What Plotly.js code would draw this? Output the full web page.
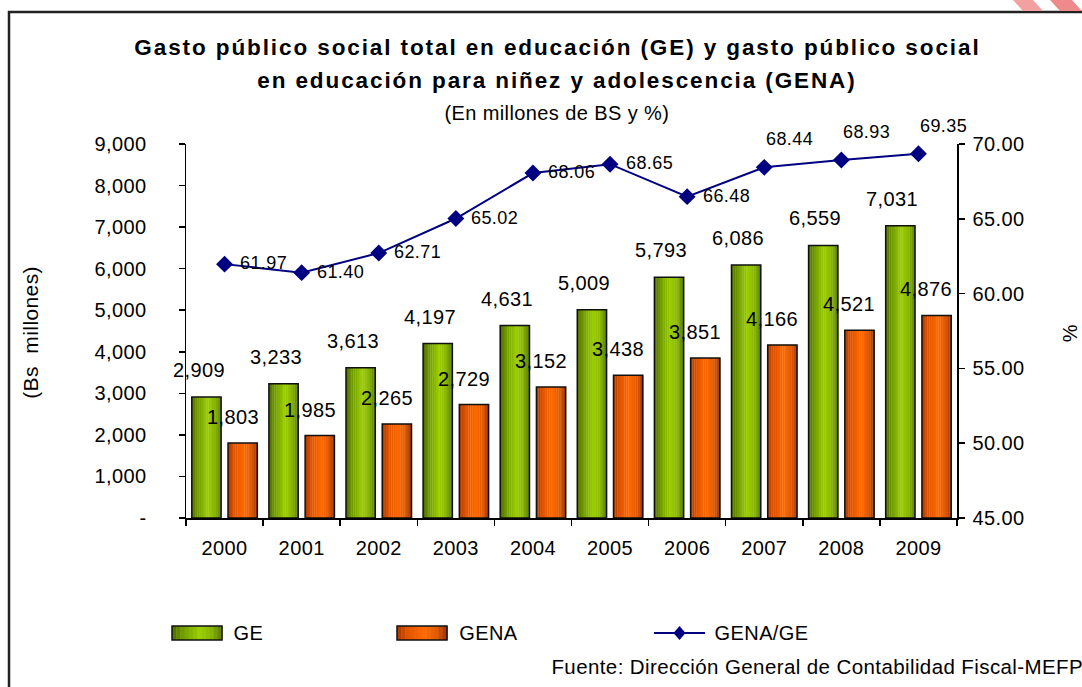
<!DOCTYPE html>
<html><head><meta charset="utf-8">
<script src="https://cdn.plot.ly/plotly-3.0.1.min.js"></script>
<style>html,body{margin:0;padding:0;background:#fff}#chart{width:1082px;height:687px}
.main-svg text{letter-spacing:0.4px}
g.annotation[data-index="0"] text, g.annotation[data-index="1"] text{letter-spacing:1.9px}
</style>
</head><body><div id="chart"></div>
<script>
// ---- data ----
const years = ['2000','2001','2002','2003','2004','2005','2006','2007','2008','2009'];
const geValues = [2909, 3233, 3613, 4197, 4631, 5009, 5793, 6086, 6559, 7031];
const genaValues = [1803, 1985, 2265, 2729, 3152, 3438, 3851, 4166, 4521, 4876];
const ratioValues = [61.97, 61.40, 62.71, 65.02, 68.06, 68.65, 66.48, 68.44, 68.93, 69.35];
const yTickVals = [0,1000,2000,3000,4000,5000,6000,7000,8000,9000];
const yTickText = ['-','1,000','2,000','3,000','4,000','5,000','6,000','7,000','8,000','9,000'];
const seriesNames = ['GE','GENA','GENA/GE'];

// ---- style ----
const FONT = 'Liberation Sans, Arial, sans-serif';
const greenStops = [[0,'#4e6b00'],[0.2,'#709a00'],[0.55,'#9ccf00'],[0.8,'#86b300'],[1,'#587a00']];
const orangeStops = [[0,'#a83a00'],[0.2,'#e05400'],[0.55,'#ff6a00'],[0.8,'#e05a00'],[1,'#9a3400']];
const BAR_W = 0.38, GE_OFF = -0.425, GENA_OFF = 0.045, NSTRIP = 16;

function hex2rgb(h){return [parseInt(h.slice(1,3),16),parseInt(h.slice(3,5),16),parseInt(h.slice(5,7),16)];}
function interp(stops,t){
  for(let i=0;i<stops.length-1;i++){
    const [t0,c0]=stops[i],[t1,c1]=stops[i+1];
    if(t>=t0&&t<=t1){const f=(t-t0)/(t1-t0);const a=hex2rgb(c0),b=hex2rgb(c1);
      return 'rgb('+a.map((v,k)=>Math.round(v+(b[k]-v)*f)).join(',')+')';}
  }
  return stops[stops.length-1][1];
}
function gradientBars(values, off, stops){
  const tr=[];
  for(let k=0;k<NSTRIP;k++){
    tr.push({type:'bar',x:years,y:values,offset:off+k*BAR_W/NSTRIP,width:BAR_W/NSTRIP+0.004,
      marker:{color:interp(stops,(k+0.5)/NSTRIP),line:{width:0}},hoverinfo:'skip',showlegend:false});
  }
  tr.push({type:'bar',x:years,y:values,offset:off,width:BAR_W,
    marker:{color:'rgba(0,0,0,0)',line:{color:'#111',width:1.5}},showlegend:false});
  return tr;
}

const traces = [].concat(gradientBars(geValues,GE_OFF,greenStops), gradientBars(genaValues,GENA_OFF,orangeStops));
traces.push({type:'scatter',mode:'lines+markers',x:years,y:ratioValues,yaxis:'y2',name:seriesNames[2],
  line:{color:'#000080',width:2},marker:{symbol:'diamond',size:13,color:'#000080'},showlegend:false});

// pixel -> paper helpers (plot area 186..957 x, 144..518 y)
const L=186,R=957,T=144,B=518;
const px=v=>(v-L)/(R-L), py=v=>(B-v)/(B-T);

const ann=[];
function paperText(x,y,text,size,opts){
  ann.push(Object.assign({x:px(x),y:py(y),xref:'paper',yref:'paper',xanchor:'center',yanchor:'middle',showarrow:false,text:text,
    font:{family:FONT,size:size,color:'#000'}},opts||{}));
}
// titles first (index 0,1 get letter spacing)
paperText(557,47,'<b>Gasto público social total en educación (GE) y gasto público social</b>',22.5);
paperText(557,80,'<b>en educación para niñez y adolescencia (GENA)</b>',22.5);
paperText(557,113,'(En millones de BS y %)',20);
paperText(30,333,'(Bs  millones)',21,{textangle:-90});
paperText(1070,333,'%',20,{textangle:-90});
paperText(560,666,'Fuente: Dirección General de Contabilidad Fiscal-MEFP',20.5,{xanchor:'left'});
[[232,seriesNames[0]],[458,seriesNames[1]],[714,seriesNames[2]]].forEach(([x,t])=>paperText(x,633,t,20,{xanchor:'left'}));

geValues.forEach((v,i)=>ann.push({x:i,y:v,xref:'x',yref:'y',text:v.toLocaleString('en-US'),showarrow:false,
  xshift:-26,yshift:27,font:{family:FONT,size:20,color:'#000'}}));
genaValues.forEach((v,i)=>ann.push({x:i,y:v,xref:'x',yref:'y',text:v.toLocaleString('en-US'),showarrow:false,
  xshift:8,yshift:26,font:{family:FONT,size:20,color:'#000'}}));
ratioValues.forEach((v,i)=>{
  const above = i>=7;
  ann.push({x:i,y:v,xref:'x',yref:'y2',text:v.toFixed(2),showarrow:false,
    xshift:above?25:39,yshift:above?28:1,font:{family:FONT,size:18,color:'#000'}});
});

const shapes=[];
// border
shapes.push({type:'rect',xref:'paper',yref:'paper',x0:px(9),x1:px(1095),y0:py(12),y1:py(700),line:{color:'#222',width:2.5},fillcolor:'rgba(0,0,0,0)'});
// legend swatches
function swatch(x0,x1,stops){
  const n=12;
  for(let k=0;k<n;k++) shapes.push({type:'rect',xref:'paper',yref:'paper',x0:px(x0+(x1-x0)*k/n),x1:px(x0+(x1-x0)*(k+1)/n+0.5),y0:py(626),y1:py(640),line:{width:0},fillcolor:interp(stops,(k+0.5)/n)});
  shapes.push({type:'rect',xref:'paper',yref:'paper',x0:px(x0),x1:px(x1),y0:py(626),y1:py(640),line:{color:'#111',width:1.5},fillcolor:'rgba(0,0,0,0)'});
}
swatch(172,222,greenStops); swatch(397,447,orangeStops);
shapes.push({type:'line',xref:'paper',yref:'paper',x0:px(654),x1:px(705),y0:py(633),y1:py(633),line:{color:'#000080',width:2}});
shapes.push({type:'path',xref:'paper',yref:'paper',path:`M ${px(679.5-6)} ${py(633)} L ${px(679.5)} ${py(633-7)} L ${px(679.5+6)} ${py(633)} L ${px(679.5)} ${py(633+7)} Z`,fillcolor:'#000080',line:{width:0}});
// watermark stripes
shapes.push({type:'path',xref:'paper',yref:'paper',path:`M ${px(1013)} ${py(0)} L ${px(1033)} ${py(0)} L ${px(1043)} ${py(11)} L ${px(1023)} ${py(11)} Z`,fillcolor:'#f3a0a0',line:{width:0}});
shapes.push({type:'path',xref:'paper',yref:'paper',path:`M ${px(1050)} ${py(0)} L ${px(1072)} ${py(0)} L ${px(1082)} ${py(11)} L ${px(1060)} ${py(11)} Z`,fillcolor:'#ee8a8a',line:{width:0}});

const tickFont={family:FONT,size:20,color:'#000'};
const layout={
  width:1082,height:687,margin:{l:L,r:1082-R,t:T,b:687-B},
  paper_bgcolor:'#fff',plot_bgcolor:'#fff',barmode:'overlay',showlegend:false,
  xaxis:{type:'category',range:[-0.5,9.5],showline:true,linecolor:'#000',linewidth:1.5,ticks:'outside',ticklen:6,tickwidth:1.5,tickcolor:'#000',
    tickson:'boundaries',showgrid:false,zeroline:false,tickfont:tickFont,ticklabelstandoff:11,fixedrange:true},
  yaxis:{range:[0,9000],tickvals:yTickVals,ticktext:yTickText,showline:true,linecolor:'#000',linewidth:1.5,ticks:'outside',ticklen:6,tickwidth:1.5,tickcolor:'#000',
    showgrid:false,zeroline:false,tickfont:tickFont,ticklabelstandoff:28},
  yaxis2:{overlaying:'y',side:'right',range:[45,70],dtick:5,tick0:45,tickformat:'.2f',showline:true,linecolor:'#000',linewidth:1.5,ticks:'outside',ticklen:6,tickwidth:1.5,tickcolor:'#000',
    showgrid:false,zeroline:false,tickfont:tickFont,ticklabelstandoff:4},
  yaxis3:{overlaying:'y',side:'left',range:[0,9000],tickvals:yTickVals,ticks:'inside',ticklen:5,tickwidth:1.5,tickcolor:'#000',showticklabels:false,showline:false,showgrid:false,zeroline:false},
  yaxis4:{overlaying:'y',side:'right',range:[45,70],dtick:5,tick0:45,ticks:'inside',ticklen:5,tickwidth:1.5,tickcolor:'#000',showticklabels:false,showline:false,showgrid:false,zeroline:false},
  xaxis2:{overlaying:'x',side:'bottom',anchor:'y',range:[-0.5,9.5],tickvals:[-0.5,0.5,1.5,2.5,3.5,4.5,5.5,6.5,7.5,8.5,9.5],ticks:'inside',ticklen:5,tickwidth:1.5,tickcolor:'#000',showticklabels:false,showline:false,showgrid:false,zeroline:false},
  annotations:ann,shapes:shapes
};
Plotly.newPlot('chart',traces,layout,{staticPlot:true});
</script></body></html>
